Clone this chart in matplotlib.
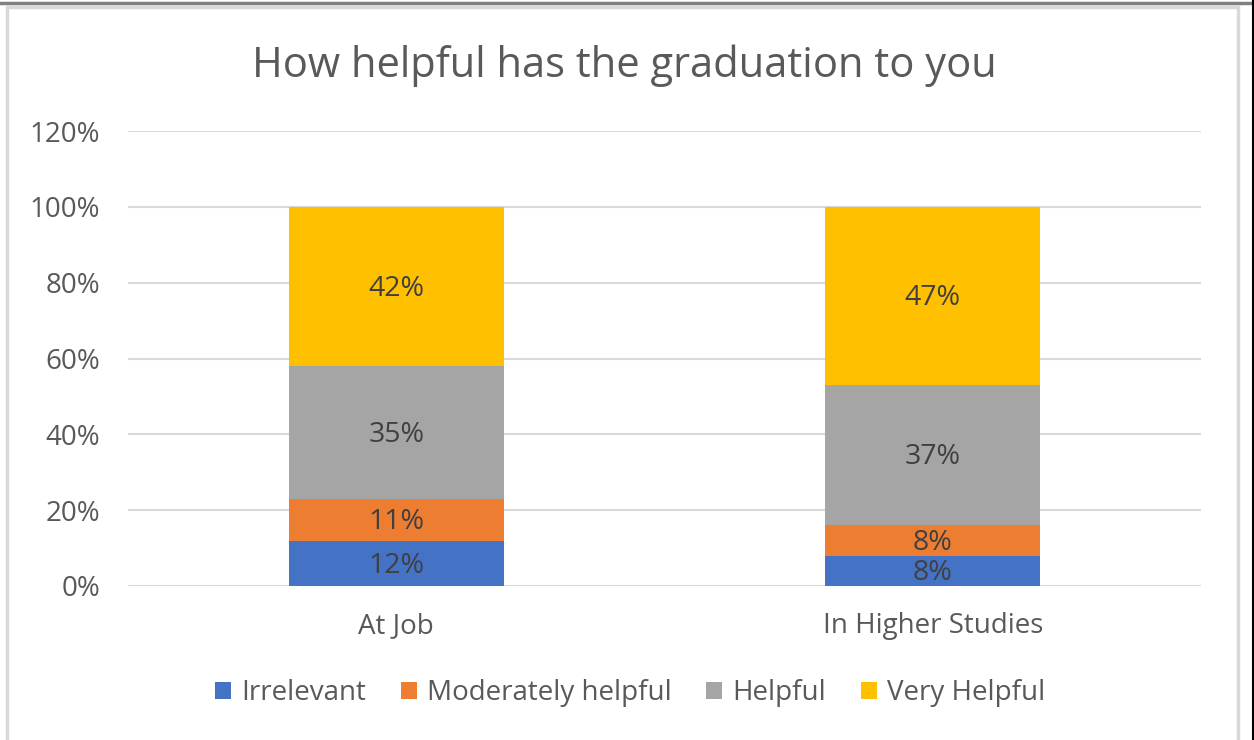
import matplotlib.pyplot as plt
from matplotlib.patches import Rectangle
from matplotlib.lines import Line2D

plt.rcParams['font.family'] = ['Open Sans', 'DejaVu Sans']

categories = ['At Job', 'In Higher Studies']
series = ['Irrelevant', 'Moderately helpful', 'Helpful', 'Very Helpful']
values = [
    [12, 8],   # Irrelevant
    [11, 8],   # Moderately helpful
    [35, 37],  # Helpful
    [42, 47],  # Very Helpful
]
colors = ['#4472C4', '#ED7D31', '#A5A5A5', '#FFC000']
yticks = [0, 20, 40, 60, 80, 100, 120]

fig = plt.figure(figsize=(12.54, 7.4), dpi=100)
ax = fig.add_axes([128 / 1254, 1 - 586 / 740, (1201 - 128) / 1254, (586 - 131) / 740])

x = list(range(len(categories)))
bottom = [0] * len(categories)
for name, vals, c in zip(series, values, colors):
    ax.bar(x, vals, 0.4, bottom=bottom, color=c, label=name, zorder=3)
    for i, v in enumerate(vals):
        ax.text(x[i], bottom[i] + v / 2 - 0.6, f'{v}%', ha='center', va='center',
                fontsize=20.5, color='#404040', zorder=4)
    bottom = [b + v for b, v in zip(bottom, vals)]

ax.set_xlim(-0.5, 1.5)
ax.set_ylim(0, 120)
ax.set_yticks(yticks)
ax.set_yticklabels([f'{t}%' for t in yticks])
ax.set_xticks(x)
ax.set_xticklabels(categories)
ax.tick_params(axis='both', length=0, labelsize=20, labelcolor='#595959')
ax.tick_params(axis='y', pad=20)
ax.tick_params(axis='x', pad=19)
ax.grid(axis='y', color='#D9D9D9', linewidth=1.5, zorder=0)
for s in ax.spines.values():
    s.set_visible(False)

ax.set_title('How helpful has the graduation to you', fontsize=30,
             color='#595959', pad=39, x=(624 - 128) / 1073)

leg = fig.legend(loc='center', bbox_to_anchor=(630 / 1254, 1 - 693 / 740), ncol=4,
                 frameon=False, fontsize=20, handlelength=0.58, handleheight=0.58,
                 handletextpad=0.36, columnspacing=1.25)
for t in leg.get_texts():
    t.set_color('#595959')

# outer frame
fig.patches.append(Rectangle((7 / 1254, -0.01), (1238 - 7) / 1254, 1.0,
                             transform=fig.transFigure, fill=False,
                             edgecolor='#D9D9D9', linewidth=2.5))
fig.lines.append(Line2D([0, 1], [1 - 3 / 740, 1 - 3 / 740], transform=fig.transFigure,
                        color='#808080', linewidth=2.5))
fig.lines.append(Line2D([1 - 1 / 1254, 1 - 1 / 1254], [0, 1], transform=fig.transFigure,
                        color='black', linewidth=1.5))

fig.savefig('out.png', dpi=100)
